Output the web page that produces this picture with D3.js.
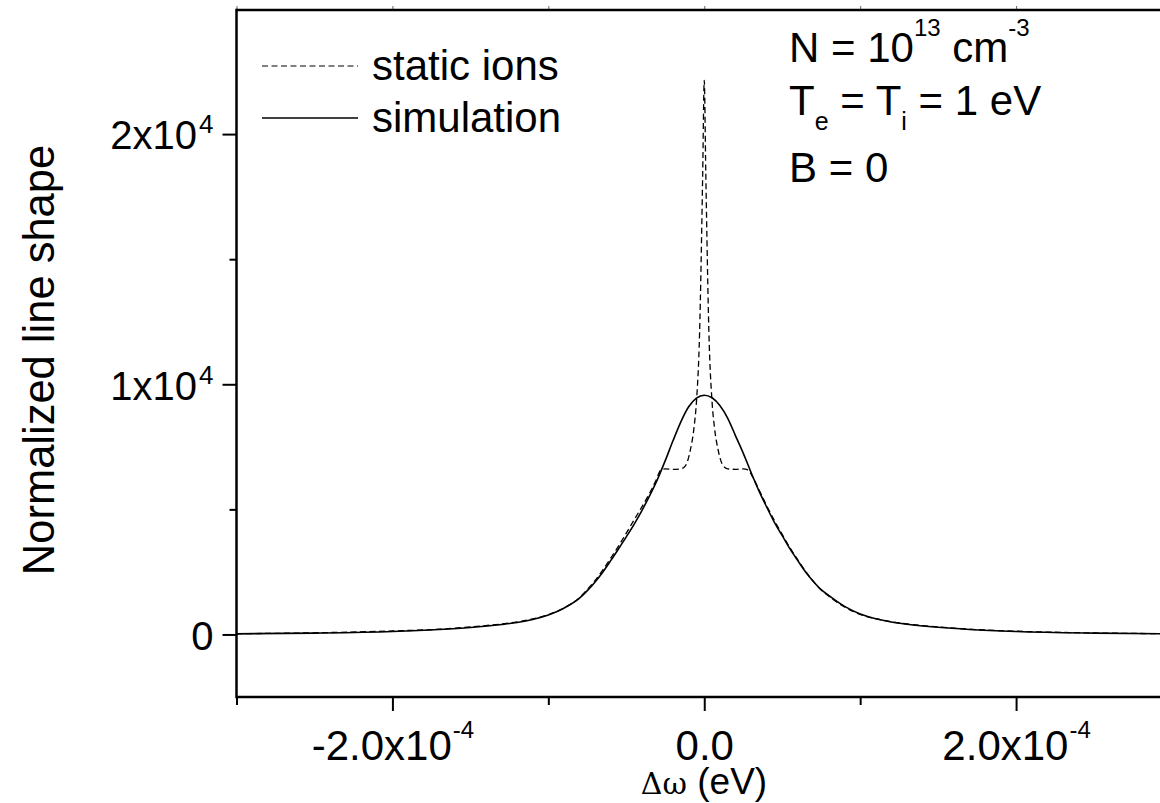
<!DOCTYPE html>
<html>
<head>
<meta charset="utf-8">
<script src="https://cdn.jsdelivr.net/npm/d3@7"></script>
<style>
  body { margin: 0; background: #fff; }
  svg { display: block; font-family: "Liberation Sans", Arial, sans-serif; }
</style>
</head>
<body>
<svg id="chart" width="1160" height="803"></svg>
<script>
// x values are in units of 1e-4 eV (axis labels carry the x10^-4)
var simX = [-3, -2.5, -2, -1.7, -1.5, -1.3, -1.2, -1.1, -1.0, -0.9, -0.8, -0.75, -0.7, -0.65, -0.6, -0.55, -0.5, -0.45, -0.4, -0.35,
            -0.3, -0.25, -0.2, -0.15, -0.1, -0.05, 0, 0.05, 0.1, 0.15, 0.2, 0.25, 0.3, 0.35, 0.4, 0.45, 0.5, 0.55, 0.6, 0.65,
            0.7, 0.75, 0.8, 0.9, 1.0, 1.1, 1.2, 1.3, 1.5, 1.7, 2.0, 2.5, 3.0];
var simY = [25, 55, 120, 200, 280, 400, 480, 600, 780, 1050, 1450, 1750, 2100, 2500, 2950, 3420, 3900, 4400, 4950, 5550,
            6200, 6950, 7750, 8500, 9100, 9450, 9560, 9460, 9150, 8650, 7950, 7250, 6480, 5750, 5100, 4480, 3950, 3420, 2950, 2500,
            2120, 1790, 1550, 1120, 820, 630, 500, 410, 285, 200, 120, 55, 25];

var staticX = [-3, -2.5, -2, -1.7, -1.5, -1.3, -1.2, -1.1, -1.0, -0.9, -0.8, -0.75, -0.7, -0.65, -0.6, -0.55, -0.5, -0.45, -0.4, -0.35,
               -0.31, -0.28, -0.25, -0.2, -0.15, -0.12, -0.09, -0.065, -0.05, -0.03, -0.01, 0, 0.01, 0.03, 0.05, 0.065, 0.09, 0.12, 0.15, 0.2,
               0.25, 0.28, 0.31, 0.35, 0.4, 0.45, 0.5, 0.55, 0.6, 0.65, 0.7, 0.75, 0.8, 0.9, 1.0, 1.1, 1.2, 1.3, 1.5, 1.7,
               2.0, 2.5, 3.0];
var staticY = [30, 65, 140, 210, 300, 420, 500, 620, 790, 1060, 1470, 1800, 2160, 2580, 3050, 3530, 4050, 4580, 5100, 5650,
               6150, 6560, 6620, 6600, 6620, 6750, 7350, 8300, 9300, 12040, 18400, 22150, 18400, 12040, 9300, 8300, 7350, 6750, 6620, 6600,
               6620, 6580, 6300, 5800, 5150, 4550, 4000, 3460, 2980, 2520, 2120, 1780, 1520, 1100, 800, 630, 510, 420, 300, 210,
               130, 60, 30];

var xMajor = [-2, 0, 2];
var xMinor = [-3, -1, 1, 3];
var yMajor = [0, 10000, 20000];
var yMinor = [5000, 15000];
var legendNames = ["static ions", "simulation"];

var svg = d3.select("#chart");
var plotLeft = 236.5, plotRight = 1172, plotTop = 10, plotBottom = 697;

var x = d3.scaleLinear().domain([-3, 3]).range([plotLeft, plotRight]);
var y = d3.scaleLinear().domain([-2500, 25000]).range([plotBottom, 9]);

svg.append("defs").append("clipPath").attr("id", "plot")
    .append("rect").attr("x", plotLeft).attr("y", plotTop)
    .attr("width", plotRight - plotLeft).attr("height", plotBottom - plotTop);

// curves
var series = [
    {name: legendNames[0], xs: staticX, ys: staticY, dash: "6,3.5", width: 1.3},
    {name: legendNames[1], xs: simX, ys: simY, dash: null, width: 1.6}
];

var line = d3.line()
    .x(function(d){ return x(d[0]); })
    .y(function(d){ return y(d[1]); })
    .curve(d3.curveMonotoneX);

svg.append("g").attr("clip-path", "url(#plot)")
    .selectAll("path")
    .data(series).enter()
    .append("path")
    .attr("fill", "none")
    .attr("stroke", "#000")
    .attr("stroke-width", function(d){ return d.width; })
    .attr("stroke-dasharray", function(d){ return d.dash; })
    .attr("d", function(d){ return line(d.xs.map(function(v, i){ return [v, d.ys[i]]; })); });

// axes
function styleAxis(g, w) {
    g.select(".domain").remove();
    g.selectAll(".tick line").attr("stroke", "#000").attr("stroke-width", w);
}

var xg = svg.append("g").attr("transform", "translate(0," + plotBottom + ")")
    .call(d3.axisBottom(x).tickValues(xMajor).tickSize(14));
styleAxis(xg, 2);
xg.selectAll(".tick text").each(function(d){
    var t = d3.select(this);
    t.text(null).attr("y", 63).attr("dy", null)
        .attr("font-family", "\"Liberation Sans\", Arial, sans-serif")
        .attr("font-size", 42).attr("fill", "#000");
    if (d === 0) { t.text("0.0"); return; }
    t.append("tspan").text((d < 0 ? "-" : "") + Math.abs(d).toFixed(1) + "x10");
    t.append("tspan").attr("dy", -22).attr("dx", 1).attr("font-size", 24).text("-4");
});

var xmg = svg.append("g").attr("transform", "translate(0," + plotBottom + ")")
    .call(d3.axisBottom(x).tickValues(xMinor).tickSize(8).tickFormat(""));
styleAxis(xmg, 2);

var xtg = svg.append("g").attr("transform", "translate(0," + plotTop + ")")
    .call(d3.axisTop(x).tickValues(xMajor.concat(xMinor)).tickSize(4).tickFormat(""));
styleAxis(xtg, 1);
xtg.selectAll(".tick line").attr("stroke", "#666");

var yg = svg.append("g").attr("transform", "translate(" + plotLeft + ",0)")
    .call(d3.axisLeft(y).tickValues(yMajor).tickSize(14).tickPadding(9));
styleAxis(yg, 2);
yg.selectAll(".tick text").each(function(d){
    var t = d3.select(this);
    t.text(null).attr("dy", "0.37em")
        .attr("font-family", "\"Liberation Sans\", Arial, sans-serif")
        .attr("font-size", 40).attr("fill", "#000");
    if (d === 0) { t.text("0"); return; }
    t.append("tspan").text((d / 10000) + "x10");
    t.append("tspan").attr("dy", -16).attr("dx", 2).attr("font-size", 26).text("4");
});

var ymg = svg.append("g").attr("transform", "translate(" + plotLeft + ",0)")
    .call(d3.axisLeft(y).tickValues(yMinor).tickSize(7).tickFormat(""));
styleAxis(ymg, 2);

// frame (right side runs off the picture)
var frame = svg.append("g").attr("stroke", "#000").attr("stroke-width", 2.5);
frame.append("line").attr("x1", plotLeft).attr("x2", plotLeft).attr("y1", plotTop - 1.2).attr("y2", plotBottom + 1.2);
frame.append("line").attr("x1", plotLeft).attr("x2", 1160).attr("y1", plotTop).attr("y2", plotTop);
frame.append("line").attr("x1", plotLeft).attr("x2", 1160).attr("y1", plotBottom).attr("y2", plotBottom);

// axis titles
var xt = svg.append("text").attr("x", 704).attr("y", 794).attr("text-anchor", "middle").attr("fill", "#000");
xt.append("tspan").attr("font-family", "\"DejaVu Serif\", \"Liberation Serif\", serif").attr("font-size", 30).text("\u0394\u03c9");
xt.append("tspan").attr("font-size", 37).text(" (eV)");

svg.append("text")
    .attr("transform", "translate(54,360) rotate(-90)")
    .attr("text-anchor", "middle")
    .attr("font-size", 43.5)
    .text("Normalized line shape");

// legend
var lg = svg.append("g").selectAll("g").data(series).enter().append("g")
    .attr("transform", function(d, i){ return "translate(0," + (66 + i * 52) + ")"; });
lg.append("line")
    .attr("x1", 262).attr("x2", 358)
    .attr("stroke", "#000")
    .attr("stroke-width", function(d){ return d.width - 0.3; })
    .attr("stroke-dasharray", function(d){ return d.dash; });
lg.append("text").attr("x", 372).attr("y", 14).attr("font-size", 42).text(function(d){ return d.name; });

// annotation
var ann = svg.append("g").attr("font-size", 42).attr("fill", "#000");
var a1 = ann.append("text").attr("x", 789).attr("y", 62);
a1.append("tspan").text("N = 10");
a1.append("tspan").attr("font-size", 24).attr("dy", -26).text("13");
a1.append("tspan").attr("dy", 26).text(" cm");
a1.append("tspan").attr("font-size", 24).attr("dy", -26).text("-3");

var a2 = ann.append("text").attr("x", 789).attr("y", 115);
a2.append("tspan").text("T");
a2.append("tspan").attr("font-size", 25).attr("dy", 15).text("e");
a2.append("tspan").attr("dy", -15).text(" = T");
a2.append("tspan").attr("font-size", 25).attr("dy", 15).text("i");
a2.append("tspan").attr("dy", -15).text(" = 1 eV");

ann.append("text").attr("x", 789).attr("y", 182).text("B = 0");
</script>
</body>
</html>
